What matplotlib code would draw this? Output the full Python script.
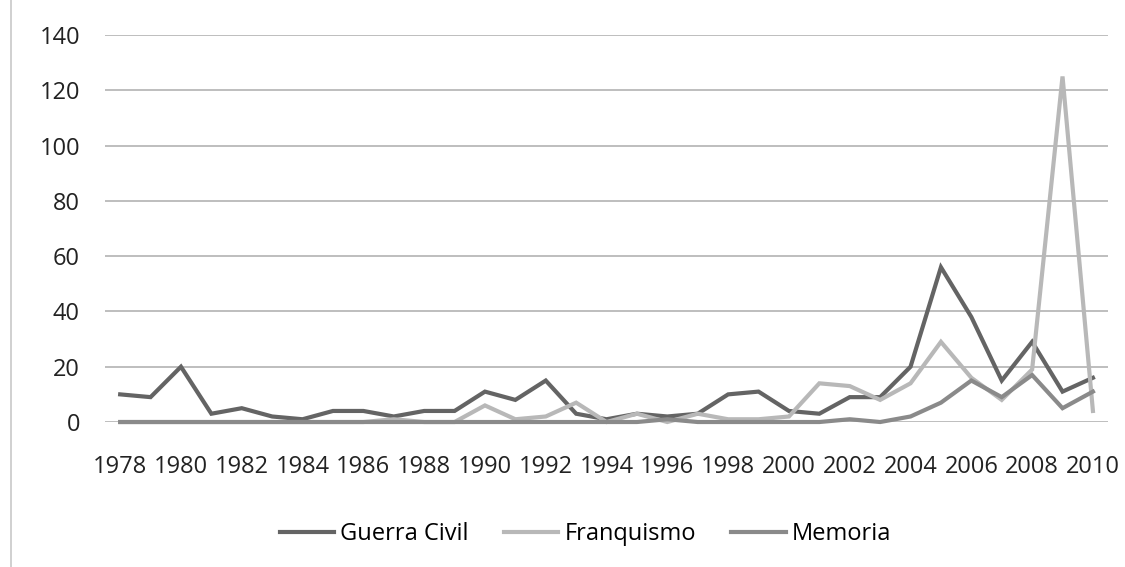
import matplotlib.pyplot as plt
from matplotlib.lines import Line2D

years = list(range(1978, 2011))

guerra_civil = [10, 9, 20, 3, 5, 2, 1, 4, 4, 2, 4, 4, 11, 8, 15, 3, 1, 3, 2, 3,
                10, 11, 4, 3, 9, 9, 20, 56, 38, 15, 29, 11, 16]
franquismo = [0, 0, 0, 0, 0, 0, 0, 0, 0, 1, 0, 0, 6, 1, 2, 7, 0, 3, 0, 3,
              1, 1, 2, 14, 13, 8, 14, 29, 16, 8, 19, 125, 4]
memoria = [0, 0, 0, 0, 0, 0, 0, 0, 0, 0, 0, 0, 0, 0, 0, 0, 0, 0, 1, 0,
           0, 0, 0, 0, 1, 0, 2, 7, 15, 9, 17, 5, 11]

series = [
    ("Guerra Civil", guerra_civil, "#646464"),
    ("Franquismo", franquismo, "#b8b8b8"),
    ("Memoria", memoria, "#8a8a8a"),
]

plt.rcParams["font.family"] = ["Open Sans", "DejaVu Sans"]

fig = plt.figure(figsize=(11.25, 5.67), dpi=100)
ax = fig.add_axes([0.0933, 0.2557, 0.8917, 0.6826])

for name, vals, color in series:
    ax.plot(years, vals, color=color, linewidth=3, label=name,
            solid_joinstyle="miter", clip_on=False, zorder=3)

ax.set_xlim(1977.5, 2010.5)
ax.set_ylim(0, 140)
ax.set_yticks(range(0, 141, 20))
ax.set_xticks(years[::2])
ax.grid(axis="y", color="#b3b3b3", linewidth=1.2)
ax.set_axisbelow(True)
for s in ax.spines.values():
    s.set_visible(False)
ax.tick_params(axis="both", length=0, labelsize=17, colors="#222222")
ax.tick_params(axis="y", pad=18)
ax.tick_params(axis="x", pad=24)

ax.legend(loc="center", bbox_to_anchor=(0.479, -0.29), ncol=3,
          frameon=False, fontsize=17, handlelength=2.3, handletextpad=0.25,
          columnspacing=1.5)

# thin border line at left edge of the chart area
fig.add_artist(Line2D([0.0098, 0.0098], [0, 1], color="#c8c8c8", linewidth=1.2))

fig.savefig("out.png", dpi=100)
